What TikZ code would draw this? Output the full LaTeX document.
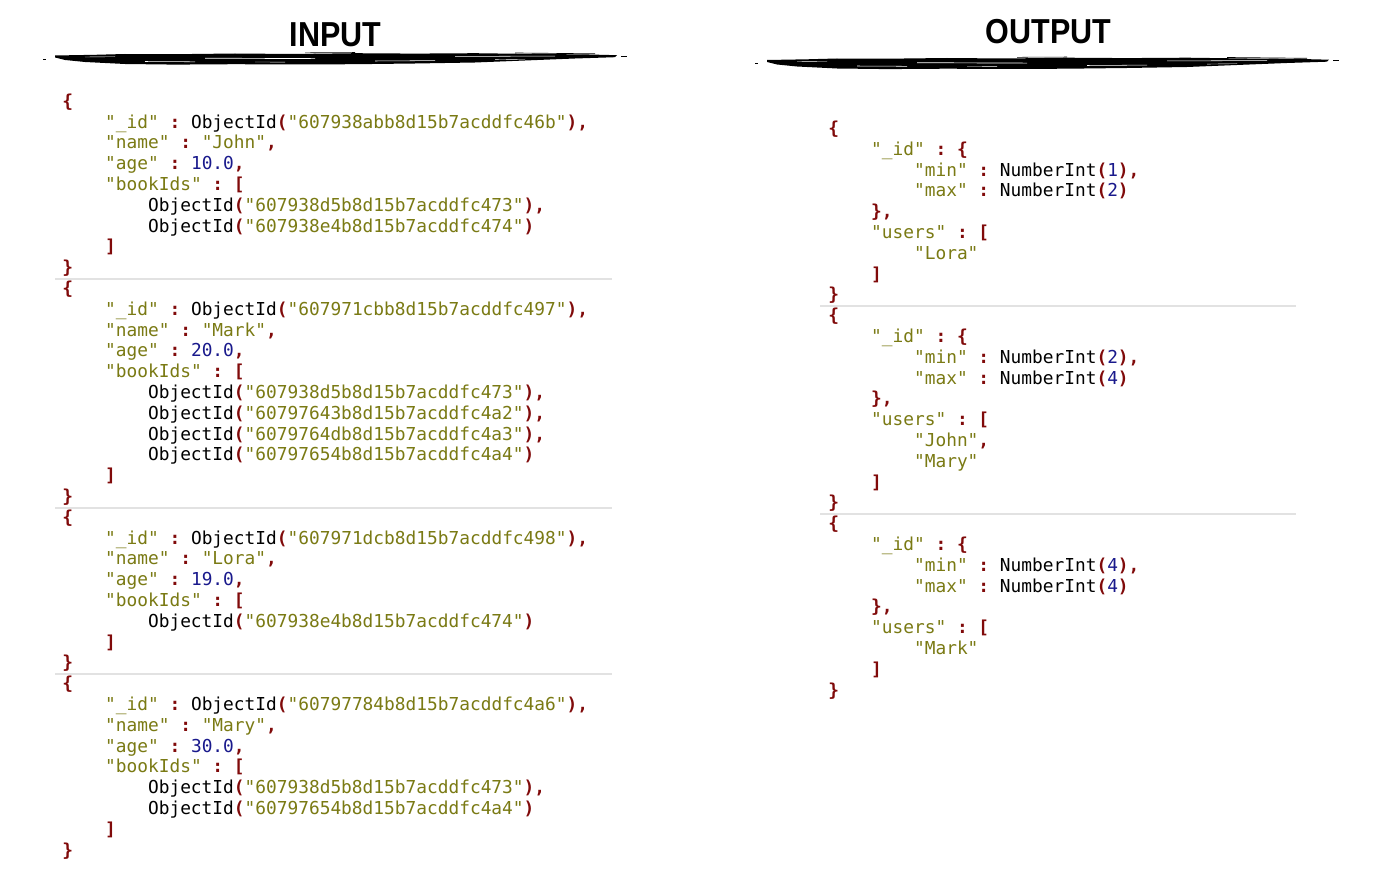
\documentclass[tikz,border=0pt]{standalone}
\usepackage{fontspec}
\setmonofont{DejaVu Sans Mono}
\newfontfamily\titlefont{Liberation Sans}
\definecolor{jsonkey}{RGB}{122,122,20}
\definecolor{jsonnum}{RGB}{25,25,140}
\definecolor{jsonpun}{RGB}{128,10,10}
\definecolor{sepgray}{RGB}{226,226,226}
\newcommand{\jk}[1]{\textcolor{jsonkey}{#1}}
\newcommand{\jn}[1]{\textcolor{jsonnum}{#1}}
\newcommand{\jp}[1]{\textcolor{jsonpun}{\bfseries #1}}
\newcommand{\oid}[1]{ObjectId\jp{(}\jk{"#1"}\jp{)}}
\newcommand{\nint}[1]{NumberInt\jp{(}\jn{#1}\jp{)}}
% rough brush stroke under a title, drawn from its left end
\newcommand{\brushstroke}{%
  \fill (0,-3.5) -- (40,-4.2) -- (70,-5) -- (120,-4.8) -- (180,-5.5) -- (240,-5) -- (300,-5.8)
    -- (360,-5.4) -- (420,-5.8) -- (480,-5) -- (530,-4.6) -- (562,-3.8)
    -- (560,-1.8) -- (520,-0.5) -- (470,1.5) -- (420,3.5) -- (360,4.5) -- (300,5.2) -- (240,5.5)
    -- (180,5.2) -- (120,5.6) -- (70,5) -- (30,3) -- (10,1) -- (0,-1.5) -- cycle;
  \draw[white, line width=0.5] (150,-0.8) -- (260,-0.4);
  \draw[white, line width=0.4] (320,2) -- (380,1.6);
  \draw[white, line width=0.4] (400,-2.6) -- (500,-2.9);
  \draw[white, line width=0.4] (90,2.5) -- (140,2.8);
  \draw[white, line width=0.3] (200,3) -- (230,3.1);
  \draw[white, line width=0.3] (440,0.6) -- (470,0.2);
  \draw[white, line width=0.3] (30,-2) -- (60,-2.3);
  \draw[line width=0.5] (460,-6) -- (540,-5.2);
  \draw[line width=0.4] (250,-6.2) -- (300,-6.5);
  \fill (-12,0) rectangle (-9,1);
  \fill (566,-3.2) rectangle (572,-2.6);
}
\tikzset{
  codeline/.style={inner sep=0pt, anchor=base west, font=\fontsize{13.37}{16}\selectfont\ttfamily},
  title/.style={inner sep=0pt, anchor=base, font=\titlefont\bfseries\fontsize{26}{30}\selectfont},
  sepline/.style={sepgray, line width=0.9pt}
}

\begin{document}
\begin{tikzpicture}[x=0.75pt,y=-0.75pt]
        \useasboundingbox[fill=white] (0,0) rectangle (1400,881);

        \node[title](intitle)at(335.6,46.5){\scalebox{0.88}[1]{INPUT}};
        \node[title](outtitle)at(1048.4,43.5){\scalebox{0.88}[1]{OUTPUT}};

        \begin{scope}[shift={(55,59)}]\brushstroke\end{scope}
        \begin{scope}[shift={(767,63.5)}]\brushstroke\end{scope}

        % input documents
        \foreach \lv/\txt [count=\i] in {
            0/{\jp{\{}},
            1/{\jk{"\_id"} \jp{:} \oid{607938abb8d15b7acddfc46b}\jp{,}},
            1/{\jk{"name"} \jp{:} \jk{"John"}\jp{,}},
            1/{\jk{"age"} \jp{:} \jn{10.0}\jp{,}},
            1/{\jk{"bookIds"} \jp{:} \jp{[}},
            2/{\oid{607938d5b8d15b7acddfc473}\jp{,}},
            2/{\oid{607938e4b8d15b7acddfc474}},
            1/{\jp{]}},
            0/{\jp{\}}},
            0/{\jp{\{}},
            1/{\jk{"\_id"} \jp{:} \oid{607971cbb8d15b7acddfc497}\jp{,}},
            1/{\jk{"name"} \jp{:} \jk{"Mark"}\jp{,}},
            1/{\jk{"age"} \jp{:} \jn{20.0}\jp{,}},
            1/{\jk{"bookIds"} \jp{:} \jp{[}},
            2/{\oid{607938d5b8d15b7acddfc473}\jp{,}},
            2/{\oid{60797643b8d15b7acddfc4a2}\jp{,}},
            2/{\oid{6079764db8d15b7acddfc4a3}\jp{,}},
            2/{\oid{60797654b8d15b7acddfc4a4}},
            1/{\jp{]}},
            0/{\jp{\}}},
            0/{\jp{\{}},
            1/{\jk{"\_id"} \jp{:} \oid{607971dcb8d15b7acddfc498}\jp{,}},
            1/{\jk{"name"} \jp{:} \jk{"Lora"}\jp{,}},
            1/{\jk{"age"} \jp{:} \jn{19.0}\jp{,}},
            1/{\jk{"bookIds"} \jp{:} \jp{[}},
            2/{\oid{607938e4b8d15b7acddfc474}},
            1/{\jp{]}},
            0/{\jp{\}}},
            0/{\jp{\{}},
            1/{\jk{"\_id"} \jp{:} \oid{60797784b8d15b7acddfc4a6}\jp{,}},
            1/{\jk{"name"} \jp{:} \jk{"Mary"}\jp{,}},
            1/{\jk{"age"} \jp{:} \jn{30.0}\jp{,}},
            1/{\jk{"bookIds"} \jp{:} \jp{[}},
            2/{\oid{607938d5b8d15b7acddfc473}\jp{,}},
            2/{\oid{60797654b8d15b7acddfc4a4}},
            1/{\jp{]}},
            0/{\jp{\}}}}
          \node[codeline](in\i)at({62+42.9*\lv},{107.2+20.8*(\i-1)}){\txt};

        % output groups
        \foreach \lv/\txt [count=\i] in {
            0/{\jp{\{}},
            1/{\jk{"\_id"} \jp{:} \jp{\{}},
            2/{\jk{"min"} \jp{:} \nint{1}\jp{,}},
            2/{\jk{"max"} \jp{:} \nint{2}},
            1/{\jp{\},}},
            1/{\jk{"users"} \jp{:} \jp{[}},
            2/{\jk{"Lora"}},
            1/{\jp{]}},
            0/{\jp{\}}},
            0/{\jp{\{}},
            1/{\jk{"\_id"} \jp{:} \jp{\{}},
            2/{\jk{"min"} \jp{:} \nint{2}\jp{,}},
            2/{\jk{"max"} \jp{:} \nint{4}},
            1/{\jp{\},}},
            1/{\jk{"users"} \jp{:} \jp{[}},
            2/{\jk{"John"}\jp{,}},
            2/{\jk{"Mary"}},
            1/{\jp{]}},
            0/{\jp{\}}},
            0/{\jp{\{}},
            1/{\jk{"\_id"} \jp{:} \jp{\{}},
            2/{\jk{"min"} \jp{:} \nint{4}\jp{,}},
            2/{\jk{"max"} \jp{:} \nint{4}},
            1/{\jp{\},}},
            1/{\jk{"users"} \jp{:} \jp{[}},
            2/{\jk{"Mark"}},
            1/{\jp{]}},
            0/{\jp{\}}}}
          \node[codeline](out\i)at({828+42.9*\lv},{134.4+20.8*(\i-1)}){\txt};

        \draw[sepline](55,279)--(612,279);
        \draw[sepline](55,508)--(612,508);
        \draw[sepline](55,674)--(612,674);
        \draw[sepline](820,306)--(1296,306);
        \draw[sepline](820,514)--(1296,514);
\end{tikzpicture}
\end{document}
